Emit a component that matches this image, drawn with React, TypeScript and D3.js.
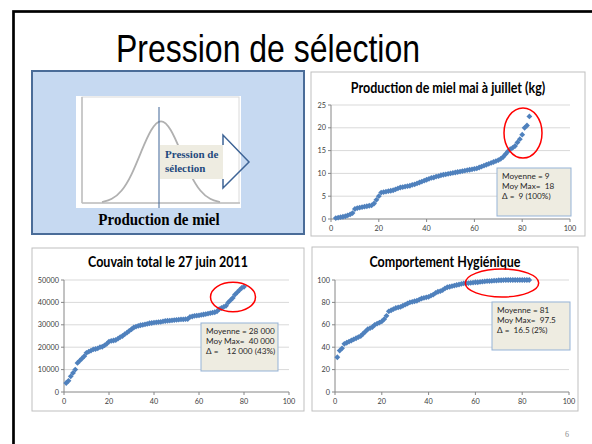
import { scaleLinear, line, curveBasis, symbol, symbolSquare } from "d3";

const slideTitle = "Pression de sélection";
const xTicks = [0, 20, 40, 60, 80, 100];

// production de miel mai à juillet (kg), colonies classées
const honeyTitle = "Production de miel mai à juillet (kg)";
const honeyStart = 2;
const honeyValues = [
  0.2, 0.3, 0.4, 0.5, 0.6, 0.8, 1.0, 1.3, 2.2, 2.4, 2.5, 2.6, 2.7, 2.8, 2.9, 3.0,
  3.4, 4.2, 5.0, 5.8, 5.9, 6.0, 6.1, 6.2, 6.3, 6.5, 6.7, 6.9, 7.0, 7.1, 7.2, 7.3,
  7.5, 7.6, 7.8, 8.0, 8.2, 8.4, 8.6, 8.8, 9.0, 9.1, 9.3, 9.4, 9.6, 9.7, 9.8, 9.9,
  10.0, 10.1, 10.2, 10.3, 10.4, 10.5, 10.6, 10.7, 10.8, 10.9, 11.0, 11.1, 11.3,
  11.5, 11.7, 11.9, 12.1, 12.3, 12.5, 12.7, 12.9, 13.2, 13.6, 14.2, 14.8, 15.3,
  15.6, 16.0, 16.8, 17.5, 18.5, 20.0, 20.5, 22.5,
];
const honeyTicks = [0, 5, 10, 15, 20, 25];
const honeyNote = ["Moyenne = 9", "Moy Max=  18", "Δ =  9 (100%)"];

// couvain total le 27 juin 2011
const broodTitle = "Couvain total le 27 juin 2011";
const broodStart = 1;
const broodValues = [
  4000, 5000, 7000, 8500, 10000, 13000, 14000, 15000, 16000, 17500, 18000, 18500,
  19000, 19200, 19500, 20000, 20200, 20800, 21500, 22500, 22800, 23000, 23200,
  23800, 24500, 25000, 25800, 26500, 27300, 28000, 28800, 29200, 29500, 29800,
  30000, 30200, 30400, 30700, 30800, 31000, 31100, 31200, 31300, 31500, 31700,
  31800, 31900, 32000, 32100, 32200, 32300, 32400, 32400, 32500, 32600, 33500,
  33700, 34000, 34100, 34200, 34400, 34600, 34800, 35000, 35200, 35400, 35600,
  36000, 37000, 37500, 38000, 38500, 40000, 41000, 42000, 43500, 44500, 45500,
  46500, 47000,
];
const broodTicks = [0, 10000, 20000, 30000, 40000, 50000];
const broodNote = ["Moyenne = 28 000", "Moy Max=  40 000", "Δ =    12 000 (43%)"];

// comportement hygiénique
const hygieneTitle = "Comportement Hygiénique";
const hygieneStart = 1;
const hygieneValues = [
  31, 37, 39, 43, 44, 45, 46, 47, 48, 49, 50, 52, 54, 56, 57, 58, 60, 61, 62, 63,
  65, 68, 72, 73, 74, 75, 75.5, 76, 77, 78, 79, 80, 80.5, 81, 81.5, 82.5, 83.5, 84,
  84.5, 85, 86, 87, 88.5, 89.5, 90, 91, 92.5, 93.5, 94, 94.5, 95, 95.5, 96, 96.5,
  97, 97, 97.2, 97.5, 97.7, 98, 98, 98.3, 98.5, 98.7, 99, 99, 99.2, 99.4, 99.5,
  99.8, 99.8, 99.9, 100, 100, 100, 100, 100, 100, 100, 100, 100, 100, 100,
];
const hygieneTicks = [0, 20, 40, 60, 80, 100];
const hygieneNote = ["Moyenne = 81", "Moy Max=  97.5", "Δ =  16.5 (2%)"];

// schéma de la courbe en cloche (illustration)
const bellX = [-3, -2.5, -2, -1.5, -1, -0.5, 0, 0.5, 1, 1.5, 2, 2.5, 3];
const bellY = [0.01, 0.04, 0.13, 0.32, 0.61, 0.88, 1, 0.88, 0.61, 0.32, 0.13, 0.04, 0.01];

const chartFont = "Lato, 'Open Sans', sans-serif";
const blue = "#4F81BD";
const diamond = symbol(symbolSquare, 17)()!;

type Rect = { x0: number; y0: number; x1: number; y1: number };

interface PanelProps {
  box: Rect;
  plot: Rect;
  title: string;
  titleY: number;
  start: number;
  values: number[];
  yTicks: number[];
  note: string[];
  noteBox: Rect;
  ring: { cx: number; cy: number; rx: number; ry: number };
}

const Panel = ({ box, plot, title, titleY, start, values, yTicks, note, noteBox, ring }: PanelProps) => {
  const x = scaleLinear().domain([0, 100]).range([plot.x0, plot.x1]);
  const y = scaleLinear()
    .domain([0, yTicks[yTicks.length - 1]])
    .range([plot.y1, plot.y0]);

  return (
    <g fontFamily={chartFont}>
      <rect x={box.x0} y={box.y0} width={box.x1 - box.x0} height={box.y1 - box.y0} fill="#fff" stroke="#BFBFBF" />
      <text
        transform={`translate(${(box.x0 + box.x1) / 2},${titleY}) scale(1,1.18)`}
        textAnchor="middle"
        fontWeight="bold"
        fontSize={12.5}
        fill="#000"
      >
        {title}
      </text>
      {yTicks.slice(1).map((t) => (
        <line key={t} x1={plot.x0} x2={plot.x1} y1={y(t)} y2={y(t)} stroke="#D9D9D9" />
      ))}
      <line x1={plot.x0} x2={plot.x0} y1={plot.y0} y2={plot.y1} stroke="#868686" />
      <line x1={plot.x0} x2={plot.x1} y1={plot.y1} y2={plot.y1} stroke="#868686" />
      {yTicks.map((t) => (
        <g key={t}>
          <line x1={plot.x0 - 3} x2={plot.x0} y1={y(t)} y2={y(t)} stroke="#868686" />
          <text x={plot.x0 - 5} y={y(t) + 2.5} textAnchor="end" fontSize={7.3} fill="#404040">
            {t}
          </text>
        </g>
      ))}
      {xTicks.map((t) => (
        <g key={t}>
          <line x1={x(t)} x2={x(t)} y1={plot.y1} y2={plot.y1 + 3} stroke="#868686" />
          <text x={x(t)} y={plot.y1 + 12} textAnchor="middle" fontSize={7.3} fill="#404040">
            {t}
          </text>
        </g>
      ))}
      {values.map((v, i) => (
        <path key={i} d={diamond} transform={`translate(${x(start + i)},${y(v)}) rotate(45)`} fill={blue} />
      ))}
      <rect
        x={noteBox.x0}
        y={noteBox.y0}
        width={noteBox.x1 - noteBox.x0}
        height={noteBox.y1 - noteBox.y0}
        fill="#EEECE1"
        stroke="#95B3D7"
      />
      {note.map((s, i) => (
        <text key={i} x={noteBox.x0 + 5} y={noteBox.y0 + 10.5 + i * 10.3} fontSize={8.2} fill="#262626" xmlSpace="preserve">
          {s}
        </text>
      ))}
      <ellipse cx={ring.cx} cy={ring.cy} rx={ring.rx} ry={ring.ry} fill="none" stroke="#FF0000" strokeWidth={1.5} />
    </g>
  );
};

const SelectionSketch = () => {
  const bx = scaleLinear().domain([-3, 3]).range([102, 220]);
  const by = scaleLinear().domain([0, 1]).range([203, 118]);
  const bell = line<number>()
    .x((d) => bx(d))
    .y((_, i) => by(bellY[i]))
    .curve(curveBasis);
  return (
    <g>
      <rect x={32} y={71} width={272} height={163} fill="#C6D9F1" stroke="#4A6C98" strokeWidth={2} />
      <rect x={76} y={96} width={165} height={112} fill="#fff" />
      <rect x={82} y={97} width={157} height={106} fill="none" stroke="#DADADA" />
      <line x1={82} x2={82} y1={97} y2={203} stroke="#BFBFBF" strokeWidth={1.5} />
      <line x1={82} x2={240} y1={203} y2={203} stroke="#BFBFBF" strokeWidth={1.5} />
      <path d={bell(bellX) ?? ""} fill="none" stroke="#B0B0B0" strokeWidth={1.8} />
      <line x1={159} x2={159} y1={107} y2={208} stroke="#3E6496" />
      <rect x={160} y={145} width={63} height={34} fill="#EEECE1" />
      <path d="M223,145 L223,135 L249,162 L223,188 L223,179" fill="none" stroke="#3E6496" strokeWidth={1.5} />
      <g fontFamily="'Liberation Serif', 'DejaVu Serif', serif" fontWeight="bold" fontSize={11} fill="#1F497D">
        <text x={165} y={158}>Pression de</text>
        <text x={165} y={172}>sélection</text>
      </g>
      <text
        transform="translate(159,225) scale(1,1.1)"
        textAnchor="middle"
        fontFamily="'Liberation Serif', serif"
        fontWeight="bold"
        fontSize={15}
        fill="#000"
      >
        Production de miel
      </text>
    </g>
  );
};

export default function App() {
  return (
    <svg width={592} height={444} style={{ position: "absolute", left: 0, top: 0, background: "#fff" }}>
      <rect x={13.5} y={11.5} width={620} height={460} fill="#fff" stroke="#000" strokeWidth={2.7} />
      <text
        transform="translate(268,62) scale(1,1.22)"
        textAnchor="middle"
        fontFamily="'Liberation Sans', Arial, sans-serif"
        fontSize={32}
        fill="#000"
      >
        {slideTitle}
      </text>
      <SelectionSketch />
      <Panel
        box={{ x0: 311, y0: 72, x1: 585, y1: 236 }}
        plot={{ x0: 331, y0: 105, x1: 570, y1: 219 }}
        title={honeyTitle}
        titleY={93}
        start={honeyStart}
        values={honeyValues}
        yTicks={honeyTicks}
        note={honeyNote}
        noteBox={{ x0: 497, y0: 168, x1: 571, y1: 216 }}
        ring={{ cx: 523, cy: 133, rx: 19, ry: 25 }}
      />
      <Panel
        box={{ x0: 32, y0: 248, x1: 304, y1: 411 }}
        plot={{ x0: 64, y0: 280, x1: 289, y1: 392 }}
        title={broodTitle}
        titleY={267}
        start={broodStart}
        values={broodValues}
        yTicks={broodTicks}
        note={broodNote}
        noteBox={{ x0: 201, y0: 323, x1: 278, y1: 371 }}
        ring={{ cx: 233, cy: 297, rx: 22.5, ry: 14.7 }}
      />
      <Panel
        box={{ x0: 312, y0: 247, x1: 578, y1: 411 }}
        plot={{ x0: 335, y0: 280, x1: 569, y1: 392 }}
        title={hygieneTitle}
        titleY={267}
        start={hygieneStart}
        values={hygieneValues}
        yTicks={hygieneTicks}
        note={hygieneNote}
        noteBox={{ x0: 492, y0: 302, x1: 570, y1: 350 }}
        ring={{ cx: 502, cy: 283, rx: 36.7, ry: 14 }}
      />
      <text x={565} y={437} fontFamily="'Liberation Serif', serif" fontSize={8} fill="#8C8C8C">
        6
      </text>
    </svg>
  );
}
